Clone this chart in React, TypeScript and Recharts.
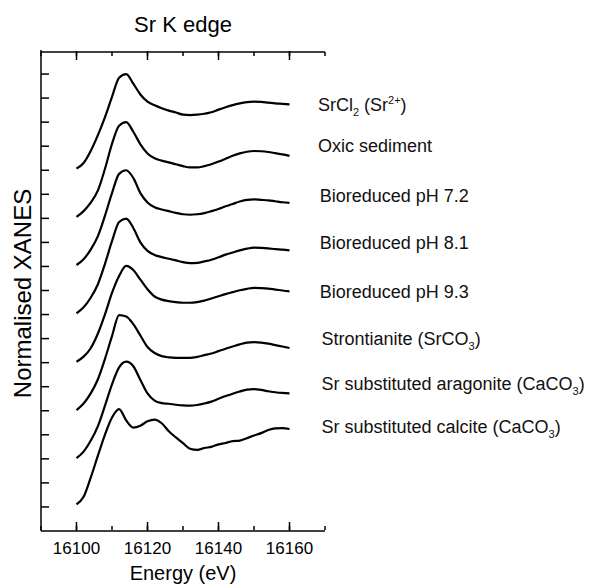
import { ComposedChart, Line, XAxis, YAxis, ReferenceDot } from 'recharts';

const FONT = '"Liberation Sans", Arial, Helvetica, sans-serif';

// energy grid (eV)
const energy = [
  16100, 16102, 16104, 16106, 16108, 16110, 16112, 16114, 16116, 16118, 16120,
  16122, 16124, 16126, 16128, 16130, 16132, 16134, 16136, 16138, 16140, 16142,
  16144, 16146, 16148, 16150, 16152, 16154, 16156, 16158, 16160,
];

// normalised XANES, stacked (offsets included)
const srcl2 = [15.07, 15.3, 15.8, 16.45, 17.2, 18.05, 18.85, 19.0, 18.6, 18.15, 17.85, 17.7, 17.58, 17.48, 17.4, 17.31, 17.29, 17.31, 17.35, 17.41, 17.52, 17.62, 17.71, 17.78, 17.83, 17.85, 17.84, 17.81, 17.78, 17.76, 17.74];
const oxic = [13.06, 13.3, 13.65, 14.15, 15.05, 16.1, 16.85, 17.0, 16.6, 16.08, 15.7, 15.5, 15.4, 15.33, 15.25, 15.17, 15.12, 15.12, 15.17, 15.25, 15.36, 15.48, 15.6, 15.7, 15.77, 15.8, 15.79, 15.76, 15.71, 15.66, 15.6];
const ph72 = [11.06, 11.3, 11.7, 12.25, 13.1, 14.05, 14.85, 15.0, 14.68, 14.05, 13.66, 13.46, 13.37, 13.3, 13.23, 13.17, 13.15, 13.17, 13.22, 13.3, 13.39, 13.5, 13.6, 13.7, 13.77, 13.79, 13.77, 13.75, 13.71, 13.67, 13.64];
const ph81 = [9.05, 9.3, 9.7, 10.25, 11.1, 12.05, 12.85, 12.99, 12.6, 12.0, 11.65, 11.48, 11.39, 11.32, 11.25, 11.18, 11.14, 11.15, 11.21, 11.28, 11.38, 11.49, 11.58, 11.67, 11.74, 11.78, 11.77, 11.75, 11.72, 11.7, 11.67];
const ph93 = [7.04, 7.25, 7.6, 8.2, 9.0, 9.9, 10.6, 11.02, 10.85, 10.45, 10.05, 9.75, 9.62, 9.56, 9.52, 9.49, 9.49, 9.52, 9.58, 9.67, 9.76, 9.85, 9.93, 10.01, 10.07, 10.11, 10.1, 10.08, 10.04, 10.0, 9.96];
const strontianite = [5.03, 5.3, 5.72, 6.3, 7.15, 8.1, 8.98, 8.92, 8.6, 8.13, 7.65, 7.4, 7.27, 7.22, 7.2, 7.2, 7.2, 7.24, 7.31, 7.38, 7.48, 7.58, 7.67, 7.76, 7.83, 7.85, 7.83, 7.79, 7.73, 7.67, 7.61];
const aragonite = [3.03, 3.3, 3.75, 4.35, 5.2, 6.1, 6.8, 7.04, 6.85, 6.28, 5.72, 5.42, 5.32, 5.29, 5.25, 5.22, 5.21, 5.24, 5.3, 5.38, 5.5, 5.61, 5.71, 5.8, 5.88, 5.9, 5.87, 5.81, 5.77, 5.74, 5.72];
const calcite = [1.11, 1.42, 2.22, 3.12, 4.0, 4.72, 5.07, 4.6, 4.3, 4.38, 4.56, 4.63, 4.48, 4.15, 3.89, 3.65, 3.42, 3.37, 3.45, 3.5, 3.6, 3.66, 3.74, 3.76, 3.86, 3.97, 4.07, 4.2, 4.27, 4.28, 4.24];

const seriesKeys = ['srcl2', 'oxic', 'ph72', 'ph81', 'ph93', 'strontianite', 'aragonite', 'calcite'];
const seriesValues = [srcl2, oxic, ph72, ph81, ph93, strontianite, aragonite, calcite];

// curve labels: segments [text, '' | 'sub' | 'sup']
const labelParts: [string, string][][] = [
  [['SrCl', ''], ['2', 'sub'], [' (Sr', ''], ['2+', 'sup'], [')', '']],
  [['Oxic sediment', '']],
  [['Bioreduced pH 7.2', '']],
  [['Bioreduced pH 8.1', '']],
  [['Bioreduced pH 9.3', '']],
  [['Strontianite (SrCO', ''], ['3', 'sub'], [')', '']],
  [['Sr substituted aragonite (CaCO', ''], ['3', 'sub'], [')', '']],
  [['Sr substituted calcite (CaCO', ''], ['3', 'sub'], [')', '']],
];
const labelX = [16168, 16168, 16168.5, 16168.5, 16168.5, 16169, 16169, 16169];
const labelY = [17.7, 16.0, 13.92, 11.96, 9.92, 8.0, 6.12, 4.33];

const majorTicks = [16100, 16120, 16140, 16160];
const minorTicks = [16090, 16100, 16110, 16120, 16130, 16140, 16150, 16160, 16170];
const yTicks = [1, 2, 3, 4, 5, 6, 7, 8, 9, 10, 11, 12, 13, 14, 15, 16, 17, 18, 19];
const xDomain = [16090, 16170];

const rows = energy.map((e, i) => {
  const r: any = { e };
  seriesKeys.forEach((k, j) => (r[k] = seriesValues[j][i]));
  return r;
});

const NoTick = () => <g />;

const CurveLabel = ({ viewBox, parts }: any) => {
  const x = viewBox?.x ?? 0;
  const y = viewBox?.y ?? 0;
  let shift = 0;
  return (
    <text x={x} y={y + 6} fontSize={18} fontFamily={FONT} fill="#111">
      {parts.map(([t, k]: [string, string], i: number) => {
        const target = k === 'sub' ? 5 : k === 'sup' ? -7 : 0;
        const dy = target - shift;
        shift = target;
        return (
          <tspan key={i} dy={dy} fontSize={k ? 11 : 18}>
            {t}
          </tspan>
        );
      })}
    </text>
  );
};

const axisStroke = { stroke: '#000', strokeWidth: 1.5 };

// tick-only axes drawn inside the frame
const innerX = (id: string, orientation: 'top' | 'bottom', ticks: number[], size: number, line: boolean) => (
  <XAxis
    key={id}
    xAxisId={id}
    dataKey="e"
    type="number"
    domain={xDomain}
    ticks={ticks}
    interval={0}
    orientation={orientation}
    mirror
    height={1}
    tick={NoTick}
    tickSize={size}
    stroke="#000"
    axisLine={line ? axisStroke : false}
    tickLine={axisStroke}
  />
);

export default function App() {
  return (
    <div style={{ position: 'absolute', left: 0, top: 0, width: 590, height: 584, background: '#fff' }}>
      <ComposedChart width={590} height={584} data={rows} margin={{ top: 50, right: 265, bottom: 0, left: 0 }}>
        <XAxis
          dataKey="e"
          type="number"
          domain={xDomain}
          ticks={majorTicks}
          interval={0}
          height={53}
          tickSize={0}
          tickMargin={11}
          stroke="#000"
          axisLine={axisStroke}
          tickLine={false}
          tick={{ fill: '#000', fontSize: 17, fontFamily: FONT }}
          label={{
            content: (p: any) => {
              const vb = p.viewBox || { x: 41, y: 531, width: 284 };
              return (
                <text x={vb.x + vb.width / 2} y={vb.y + 49} textAnchor="middle" fontSize={20} fontFamily={FONT} fill="#000">
                  Energy (eV)
                </text>
              );
            },
          }}
        />
        {innerX('tminor', 'top', minorTicks, 4, true)}
        {innerX('tmajor', 'top', majorTicks, 9, false)}
        {innerX('bminor', 'bottom', minorTicks, 4, false)}
        {innerX('bmajor', 'bottom', majorTicks, 9, false)}
        <XAxis
          xAxisId="title"
          dataKey="e"
          type="number"
          domain={xDomain}
          orientation="top"
          mirror
          height={1}
          tick={NoTick}
          tickLine={false}
          axisLine={false}
          label={{
            content: (p: any) => {
              const vb = p.viewBox || { x: 41, y: 50, width: 284 };
              return (
                <text x={vb.x + vb.width / 2} y={32} textAnchor="middle" fontSize={22} fontFamily={FONT} fill="#000">
                  Sr K edge
                </text>
              );
            },
          }}
        />
        <YAxis
          type="number"
          domain={[0, 20]}
          ticks={yTicks}
          interval={0}
          width={41}
          tick={NoTick}
          tickSize={-8}
          stroke="#000"
          axisLine={axisStroke}
          tickLine={axisStroke}
          label={{
            content: (p: any) => {
              const vb = p.viewBox || { x: 0, y: 50, width: 41, height: 481 };
              const cx = vb.x + 31;
              const cy = vb.y + vb.height / 2 + 3;
              return (
                <text x={cx} y={cy} transform={`rotate(-90 ${cx} ${cy})`} textAnchor="middle" fontSize={24} fontFamily={FONT} fill="#000">
                  Normalised XANES
                </text>
              );
            },
          }}
        />
        {seriesKeys.map((k) => (
          <Line key={k} dataKey={k} type="monotone" stroke="#000" strokeWidth={2.2} dot={false} activeDot={false} isAnimationActive={false} />
        ))}
        {labelParts.map((parts, i) => (
          <ReferenceDot
            key={i}
            x={labelX[i]}
            y={labelY[i]}
            r={0}
            fill="none"
            stroke="none"
            label={{ content: (p: any) => <CurveLabel viewBox={p.viewBox} parts={parts} /> }}
          />
        ))}
      </ComposedChart>
    </div>
  );
}
